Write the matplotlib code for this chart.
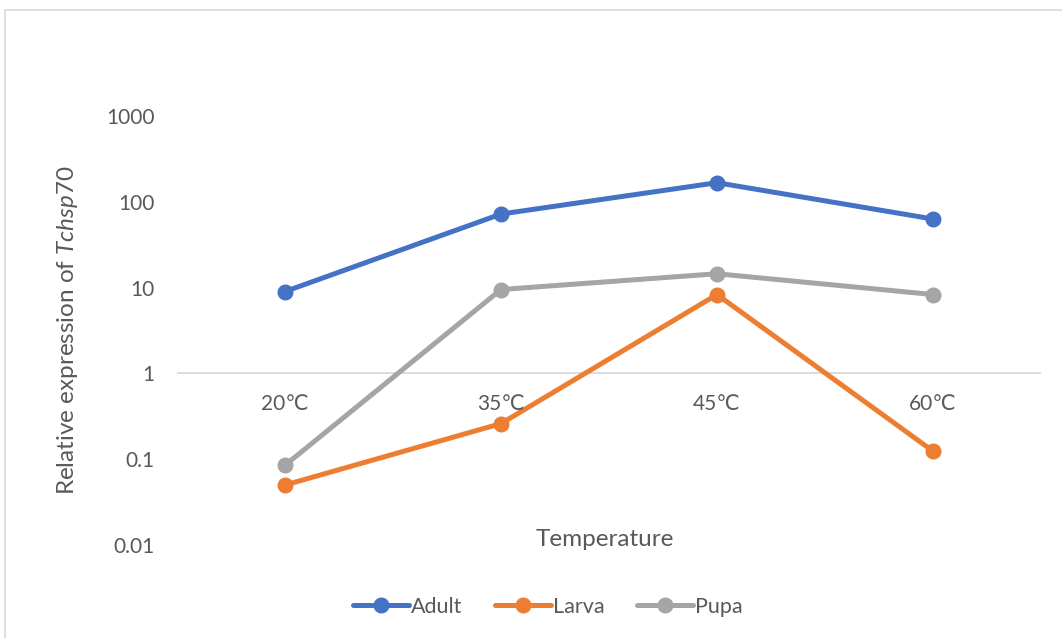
import matplotlib
matplotlib.use("Agg")
import matplotlib.pyplot as plt
from matplotlib.patches import Rectangle

categories = ["20℃", "35℃", "45℃", "60℃"]
adult = [9.0, 72, 167, 63]
larva = [0.05, 0.26, 8.3, 0.124]
pupa = [0.085, 9.5, 14.5, 8.3]
yticks = [0.01, 0.1, 1, 10, 100, 1000]
ytick_labels = ["0.01", "0.1", "1", "10", "100", "1000"]

plt.rcParams['font.family'] = ['Lato', 'DejaVu Sans']
plt.rcParams['mathtext.fontset'] = 'custom'
plt.rcParams['mathtext.rm'] = 'Lato'
plt.rcParams['mathtext.it'] = 'Lato:italic'

txt = '#595959'
fs = 15
fs_title = 17.5

fig = plt.figure(figsize=(10.62, 6.38), dpi=100)
fig.patches.append(Rectangle((5/1062, -0.1), 1.2, (1 - 10/638) + 0.1, transform=fig.transFigure,
                             fill=False, edgecolor='#d9d9d9', lw=1.2))
ax = fig.add_axes([177/1062, 1 - 545/638, (1041 - 177)/1062, (545 - 116)/638])
ax.set_yscale('log')
ax.set_ylim(0.01, 1000)
x = list(range(len(categories)))
ax.set_xlim(-0.5, len(categories) - 0.5)

for s in ax.spines.values():
    s.set_visible(False)
ax.axhline(1, color='#d9d9d9', lw=1.3, zorder=1)

series = [("Adult", adult, '#4472C4'), ("Larva", larva, '#ED7D31'), ("Pupa", pupa, '#A5A5A5')]
for name, vals, c in series:
    ax.plot(x, vals, color=c, lw=3.6, marker='o', markersize=10.5, label=name,
            solid_capstyle='round', zorder=3)

ax.set_yticks(yticks)
ax.set_yticklabels(ytick_labels)
ax.yaxis.set_minor_locator(matplotlib.ticker.NullLocator())
ax.tick_params(axis='y', length=0, pad=16, labelsize=fs, labelcolor=txt)
ax.set_xticks([])

for i, lab in enumerate(categories):
    ax.annotate(lab, xy=(i, 1), xytext=(0, -15), textcoords='offset points',
                ha='center', va='top', fontsize=fs, color=txt)

fig.text(68/1062, 1 - 330/638, r'Relative expression of $\mathit{Tchsp70}$', rotation=90,
         ha='center', va='center', fontsize=fs_title, color=txt)
fig.text(605/1062, 1 - 540/638, 'Temperature', ha='center', va='center', fontsize=fs_title, color=txt)

leg = fig.legend(loc='center', bbox_to_anchor=(548/1062, 1 - 607/638), ncol=3, frameon=False,
                 fontsize=fs + 0.5, handlelength=2.6, columnspacing=1.5, handletextpad=0.1,
                 labelcolor=txt)

fig.savefig('out.png', dpi=100)
